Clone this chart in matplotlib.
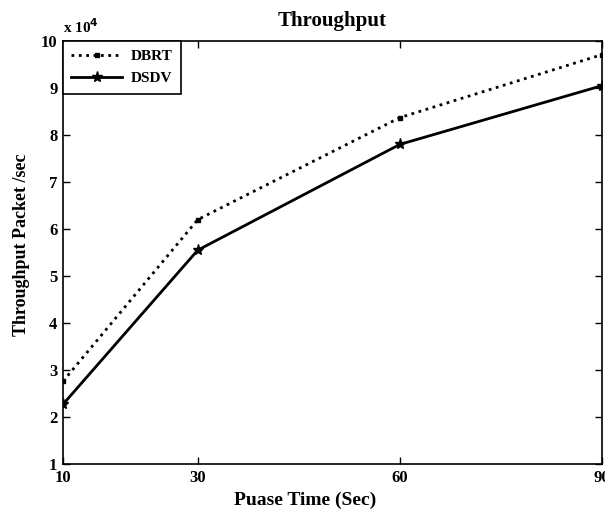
import matplotlib
matplotlib.use("Agg")
import matplotlib.pyplot as plt

pause_time = [10, 30, 60, 90]
dbrt = [2.76, 6.2, 8.37, 9.71]
dsdv = [2.27, 5.55, 7.8, 9.05]
xticks = [10, 30, 60, 90]
yticks = list(range(1, 11))

plt.rcParams['font.family'] = ['Liberation Serif', 'DejaVu Serif']
plt.rcParams['font.weight'] = 'bold'

fig = plt.figure(figsize=(6.05, 5.12), dpi=100)
ax = fig.add_axes([63/605, 48/512, 539/605, 423/512])

ax.plot(pause_time, dbrt, color='black', linestyle=':', linewidth=2,
        marker='s', markersize=3.5, label='DBRT')
ax.plot(pause_time, dsdv, color='black', linestyle='-', linewidth=2,
        marker='*', markersize=8, label='DSDV')

ax.set_xlim(10, 90)
ax.set_ylim(1, 10)
ax.set_xticks(xticks)
ax.set_yticks(yticks)
ax.tick_params(direction='in', top=True, right=True, length=5, width=1,
               labelsize=12, pad=4)
for lab in ax.get_xticklabels() + ax.get_yticklabels():
    lab.set_fontweight('bold')
for s in ax.spines.values():
    s.set_linewidth(1.2)

ax.set_title('Throughput', fontsize=15, fontweight='bold', pad=11)
ax.set_xlabel('Puase Time (Sec)', fontsize=14, fontweight='bold', labelpad=2)
ax.xaxis.set_label_coords((305 - 63) / 539, -0.065)
ax.set_ylabel('Throughput Packet /sec', fontsize=13, fontweight='bold')
ax.yaxis.set_label_coords((30 - 63) / 539, (464 - 245) / 423)
ax.text(0.0, 1.012, r'x 10$^{\mathbf{4}}$', transform=ax.transAxes,
        fontsize=11, fontweight='bold', ha='left', va='bottom')

leg = ax.legend(loc='upper left', fancybox=False, edgecolor='black',
                framealpha=1, borderaxespad=0, fontsize=11, handlelength=3.3,
                borderpad=0.55, labelspacing=0.55, handletextpad=0.6)
leg.get_frame().set_linewidth(1.2)
for t in leg.get_texts():
    t.set_fontweight('bold')

fig.savefig('out.png', dpi=100)
